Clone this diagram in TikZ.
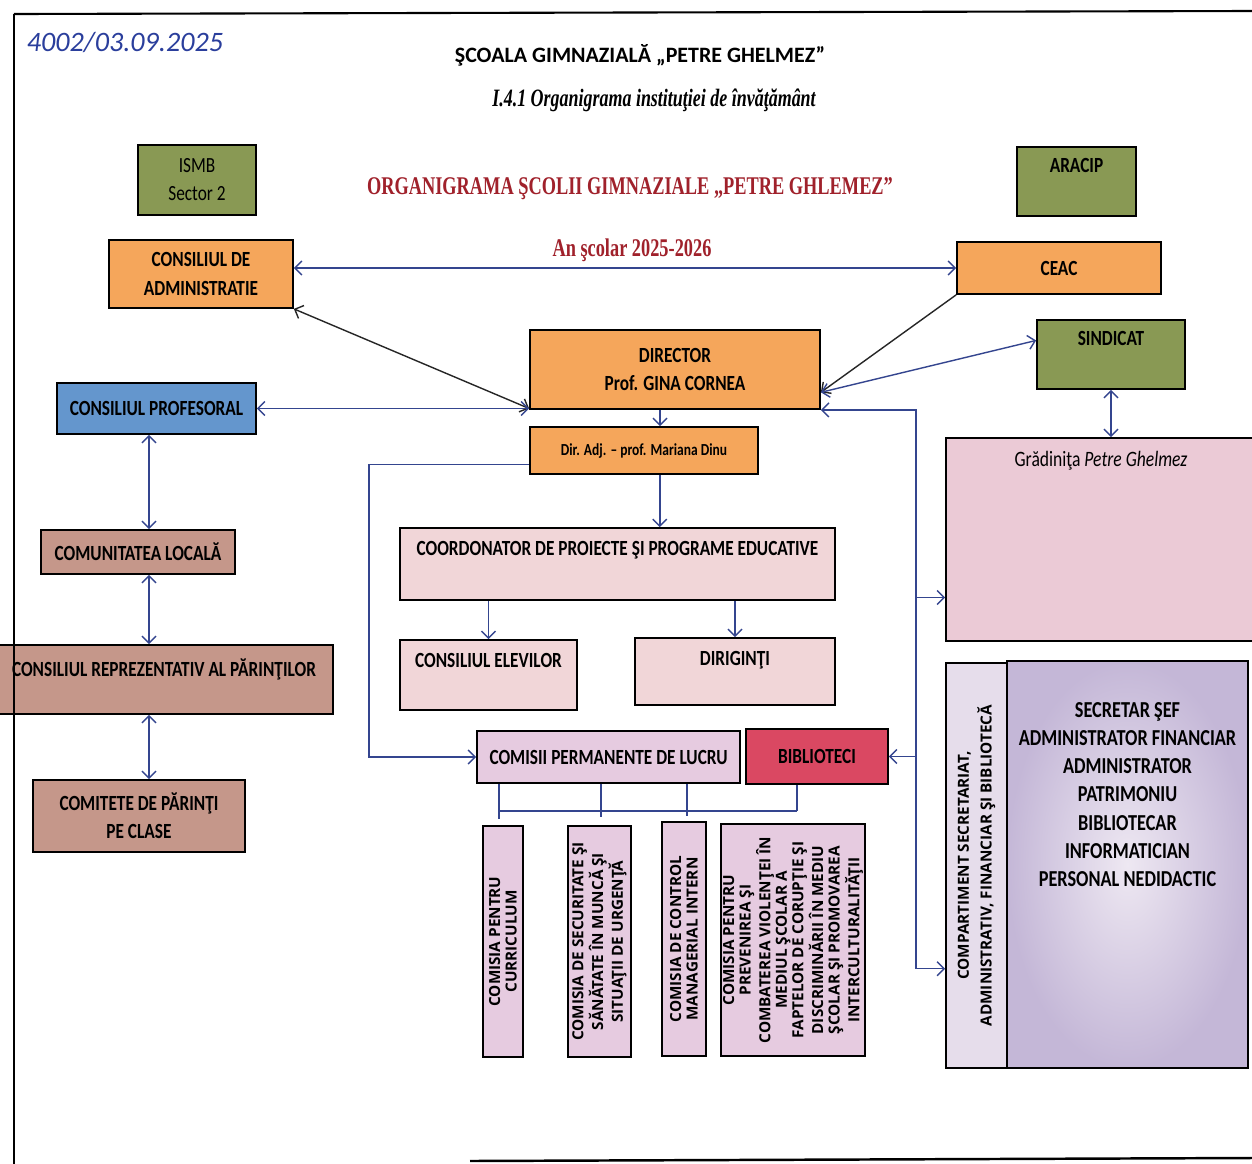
\documentclass[tikz,border=0pt]{standalone}
\usepackage{fontspec}
\setmainfont{Carlito}
\newfontfamily\boxfont[FakeStretch=0.8]{Carlito}
\newfontfamily\titlefont[FakeStretch=0.72]{Liberation Serif}
\newfontfamily\vfont{Open Sans}
\usetikzlibrary{positioning, arrows.meta}

\definecolor{olive}{HTML}{899954}
\definecolor{orng}{HTML}{F5A65B}
\definecolor{profblue}{HTML}{6496CD}
\definecolor{brownish}{HTML}{C5978A}
\definecolor{lightpink}{HTML}{F1D6D8}
\definecolor{gradpink}{HTML}{EBCAD6}
\definecolor{lav}{HTML}{E6CBE0}
\definecolor{biblred}{HTML}{DA4862}
\definecolor{complav}{HTML}{E6DDEB}
\definecolor{staffin}{HTML}{EEE8F2}
\definecolor{staffout}{HTML}{C4B7D7}
\definecolor{linkblue}{HTML}{34458F}
\definecolor{titlered}{HTML}{A0212B}
\definecolor{handblue}{HTML}{2A3E9C}

\begin{document}
\begin{tikzpicture}[x=0.02cm, y=-0.02cm, >={Straight Barb[length=4pt, width=8pt]},
    sz/.style 2 args={minimum width=#1*0.02cm, minimum height=#2*0.02cm},
    box/.style={draw=black, line width=1pt, inner sep=2pt, align=center, font=\boxfont\bfseries\fontsize{12.3}{16}\selectfont},
    lbl/.style={inner sep=0pt, align=center, font=\boxfont\bfseries\fontsize{12.3}{16}\selectfont},
    vbox/.style={box, rotate=90, inner sep=1pt, font=\vfont\bfseries\fontsize{8.7}{9.4}\selectfont},
    link/.style={draw=linkblue, line width=0.8pt},
    dark/.style={draw=black!85, line width=0.8pt},
    tree/.style={draw=linkblue, line width=0.7pt}]
        \fill[white] (0,0) rectangle (1252,1164);
        \useasboundingbox (0,0) rectangle (1252,1164);

        % Header
        \node[text=handblue, font=\itshape\fontsize{16}{16}\selectfont] (nr) at (125,42) {4002/03.09.2025};
        \node[font=\bfseries\fontsize{12.5}{14}\selectfont] (scoala) at (640,55) {ŞCOALA GIMNAZIALĂ „PETRE GHELMEZ”};
        \node[font=\titlefont\bfseries\itshape\fontsize{14.2}{16}\selectfont] (sub) at (654,100) {I.4.1 Organigrama instituţiei de învăţământ};
        \node[text=titlered, font=\titlefont\bfseries\fontsize{14.5}{16}\selectfont] (title) at (630,189) {ORGANIGRAMA ŞCOLII GIMNAZIALE „PETRE GHLEMEZ”};
        \node[text=titlered, font=\titlefont\bfseries\fontsize{14.5}{16}\selectfont] (an) at (632,250) {An şcolar 2025-2026};

        % Top row
        \node[box, fill=olive, sz={118}{70}, font=\boxfont\fontsize{12.3}{16}\selectfont] (ismb) at (197,180) {ISMB\\Sector 2};
        \node[box, fill=olive, sz={119}{69}] (aracip) at (1076.5,181.5) {};
        \node[lbl, below=7pt of aracip.north] (aracipt) {ARACIP};
        \node[box, fill=orng, sz={184}{68}] (cadm) at (201,274) {CONSILIUL DE\\ADMINISTRATIE};
        \node[box, fill=orng, sz={204}{52}] (ceac) at (1059,268) {CEAC};
        \node[box, fill=orng, sz={290}{79}] (dir) at (675,369.5) {DIRECTOR\\Prof. GINA CORNEA};
        \node[box, fill=olive, sz={148}{69}] (sind) at (1111,354.5) {};
        \node[lbl, below=7pt of sind.north] (sindt) {SINDICAT};
        \node[box, fill=profblue, sz={199}{51}] (cprof) at (156.5,408.5) {CONSILIUL PROFESORAL};
        \node[box, fill=orng, sz={228}{47}, font=\boxfont\bfseries\fontsize{9.6}{11}\selectfont] (diradj) at (644,450.5) {Dir. Adj. – prof. Mariana Dinu};

        % Right side
        \node[box, fill=gradpink, sz={310}{203}] (grad) at (1101,539.5) {};
        \node[lbl, font=\boxfont\fontsize{12.5}{14}\selectfont, below=8pt of grad.north] (gradt) {Grădiniţa \textit{Petre Ghelmez}};
        \node[vbox, fill=complav, sz={405}{61}, font=\vfont\bfseries\fontsize{8.7}{13}\selectfont] (compart) at (976.5,865.5) {COMPARTIMENT SECRETARIAT,\\ADMINISTRATIV, FINANCIAR ŞI BIBLIOTECĂ};
        \node[box, sz={241}{407}, inner color=staffin, outer color=staffout] (staff) at (1127.5,864.5) {};
        \node[lbl, font=\boxfont\bfseries\fontsize{13}{16}\selectfont, below=24pt of staff.north] (stafft) {SECRETAR ŞEF\\ADMINISTRATOR FINANCIAR\\ADMINISTRATOR\\PATRIMONIU\\BIBLIOTECAR\\INFORMATICIAN\\PERSONAL NEDIDACTIC};

        % Left column
        \node[box, fill=brownish, sz={194}{44}] (comun) at (138,552) {COMUNITATEA LOCALĂ};
        \node[box, fill=brownish, sz={338}{69}] (crep) at (164,679.5) {};
        \node[lbl, below=8pt of crep.north] (crept) {CONSILIUL REPREZENTATIV AL PĂRINŢILOR};
        \node[box, fill=brownish, sz={212}{72}] (comit) at (139,816) {COMITETE DE PĂRINŢI\\PE CLASE};

        % Middle
        \node[box, fill=lightpink, sz={435}{72}] (coord) at (617.5,564) {};
        \node[lbl, below=8pt of coord.north] (coordt) {COORDONATOR DE PROIECTE ŞI PROGRAME EDUCATIVE};
        \node[box, fill=lightpink, sz={177}{70}] (celev) at (488.5,675) {};
        \node[lbl, below=8pt of celev.north] (celevt) {CONSILIUL ELEVILOR};
        \node[box, fill=lightpink, sz={200}{67}] (dirig) at (735,671.5) {};
        \node[lbl, below=8pt of dirig.north] (dirigt) {DIRIGINŢI};
        \node[box, fill=lav, sz={263}{52}] (comisii) at (608.5,757) {COMISII PERMANENTE DE LUCRU};
        \node[box, fill=biblred, sz={142}{55}] (bibl) at (817,756.5) {BIBLIOTECI};

        % Comisii
        \node[vbox, fill=lav, sz={231}{40}] (c1) at (503,941.5) {COMISIA PENTRU\\CURRICULUM};
        \node[vbox, fill=lav, sz={231}{63}] (c2) at (599.5,941.5) {COMISIA DE SECURITATE ŞI\\SĂNĂTATE ÎN MUNCĂ ŞI\\SITUAŢII DE URGENŢĂ};
        \node[vbox, fill=lav, sz={234}{44}] (c3) at (684,939) {COMISIA DE CONTROL\\MANAGERIAL INTERN};
        \node[vbox, fill=lav, sz={232}{142}] (c4) at (793,940) {COMISIA PENTRU\\PREVENIREA ŞI\\COMBATEREA VIOLENŢEI ÎN\\MEDIUL ŞCOLAR A\\FAPTELOR DE CORUPŢIE ŞI\\DISCRIMINĂRII ÎN MEDIU\\ŞCOLAR ŞI PROMOVAREA\\INTERCULTURALITĂŢII};

        % Connectors top
        \draw[link, <->] (cadm.east |- ceac.west) -- (ceac.west);
        \draw[dark, <->] (cadm.south east) -- (dir.west |- cprof.east);
        \draw[link, <->] (cprof.east) -- (dir.west |- cprof.east);
        \draw[dark, ->] (ceac.south west) -- ([yshift=10pt]dir.south east);
        \draw[link, <->] ([yshift=10pt]dir.south east) -- ([yshift=8pt]sind.west);
        \draw[link, <->] (sind.south) -- (sind.south |- grad.north);
        \draw[link, ->] ([xshift=-8.5pt]dir.south) -- ([xshift=-8.5pt]dir.south |- diradj.north);
        \draw[link, ->] ([xshift=9pt]diradj.south) -- ([xshift=9pt]diradj.south |- coord.north);
        \draw[link, ->] (celev.north |- coord.south) -- (celev.north);
        \draw[link, ->] (dirig.north |- coord.south) -- (dirig.north);

        % Left bus
        \draw[link, ->] ([yshift=-8pt]diradj.west) -- ++(-160,0) |- (comisii.west);

        % Right bus
        \coordinate (gin) at ([yshift=-33pt]grad.west);
        \coordinate (cin) at ([yshift=57pt]compart.north west);
        \draw[link, <->] (dir.south east) -- ++(95,0) coordinate (bt) |- (cin);
        \draw[link, ->] (bt |- gin) -- (gin);
        \draw[link, ->] (bt |- bibl.east) -- (bibl.east);

        % Left column
        \coordinate (lx) at (149,0);
        \draw[link, <->] (cprof.south -| lx) -- (comun.north -| lx);
        \draw[link, <->] (comun.south -| lx) -- (crep.north -| lx);
        \draw[link, <->] (crep.south -| lx) -- (comit.north -| lx);

        % Tree under comisii
        \coordinate (hb) at (0,811);
        \draw[tree] (comisii.south -| 499,0) -- (499,819);
        \draw[tree] (comisii.south -| 601,0) -- (601,817);
        \draw[tree] (comisii.south -| 687,0) -- (687,816);
        \draw[tree] (bibl.south -| 797,0) -- (hb -| 797,0);
        \draw[tree] (hb -| 498,0) -- (hb -| 797,0);

        % Page frame
        \draw[line width=1.2pt] (14,14) -- (1252,11);
        \draw[line width=1pt] (14,14) -- (14,1164);
        \draw[line width=1.4pt] (470,1161) -- (1252,1158);
\end{tikzpicture}
\end{document}
